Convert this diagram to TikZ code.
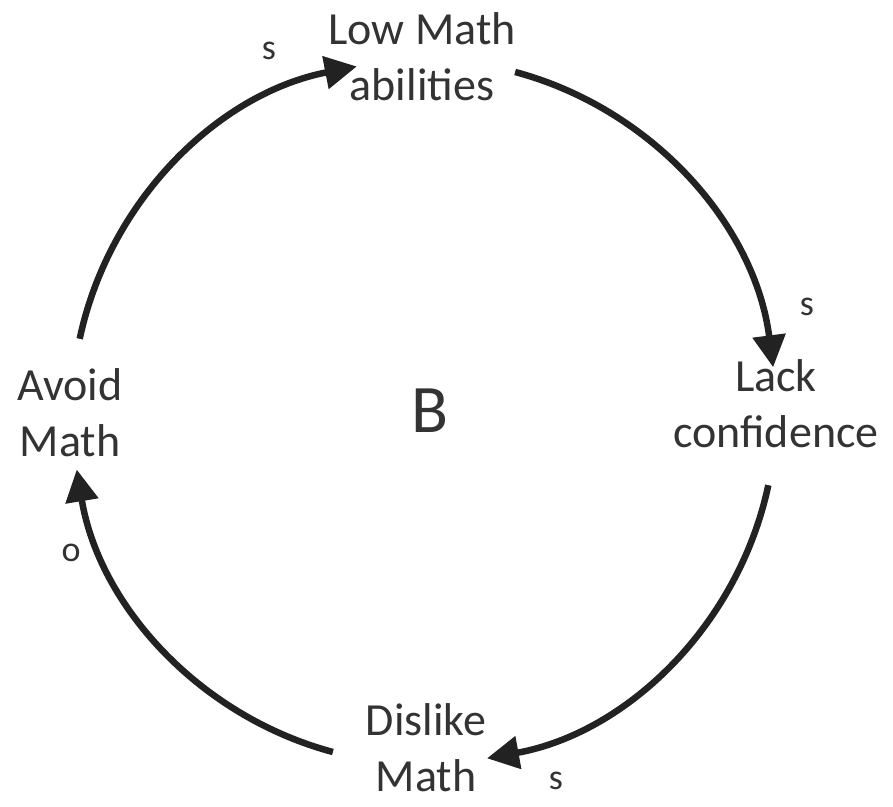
\documentclass[tikz,border=0pt]{standalone}
\usepackage{fontspec}
\setmainfont{Carlito}
\usetikzlibrary{arrows.meta}
\definecolor{txt}{HTML}{333333}
\definecolor{ln}{HTML}{222222}
\begin{document}
\begin{tikzpicture}[x=1pt,y=1pt,
  lbl/.style={inner sep=0pt, align=center, text=txt, font=\fontsize{46}{56}\selectfont},
  pol/.style={inner sep=0pt, text=txt, font=\fontsize{36}{40}\selectfont},
  conn/.style={draw=ln, line width=6.5pt, -{Triangle[length=32pt,width=32pt]}}]
\useasboundingbox (0,0) rectangle (893,806);
\fill[white] (0,0) rectangle (893,806);
\coordinate (O) at (424,394);
\node[lbl] (low) at (422,749) {Low Math\\abilities};
\node[lbl] (lack) at (776,402) {Lack\\confidence};
\node[lbl] (dis) at (426,58) {Dislike\\Math};
\node[lbl] (avoid) at (70,393) {Avoid\\Math};
\node[inner sep=0pt, text=txt, font=\fontsize{68}{70}\selectfont] (B) at (430,395) {B};
\node[pol] (s1) at (269,755) {s};
\node[pol] (s2) at (807,499) {s};
\node[pol] (s3) at (556,25) {s};
\node[pol] (o1) at (71,253) {o};
\draw[conn] ([shift={(168:352)}]O) arc[start angle=168, end angle=101, radius=352];
\draw[conn] ([shift={(75:352)}]O) arc[start angle=75, end angle=7.3, radius=352];
\draw[conn] ([shift={(-12:352)}]O) arc[start angle=-12, end angle=-79.7, radius=352];
\draw[conn] ([shift={(-105:352)}]O) arc[start angle=-105, end angle=-170.6, radius=352];
\end{tikzpicture}
\end{document}
